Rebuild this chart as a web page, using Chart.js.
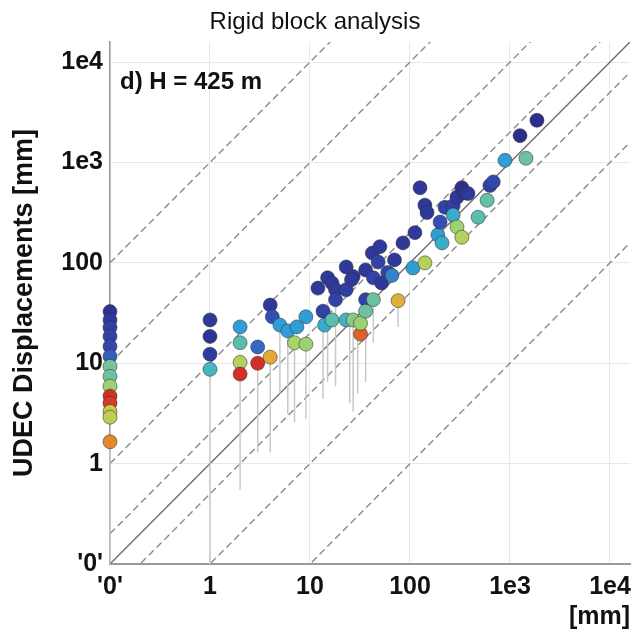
<!DOCTYPE html>
<html>
<head>
<meta charset="utf-8">
<script src="https://cdn.jsdelivr.net/npm/chart.js@4.4.1/dist/chart.umd.min.js"></script>
<style>
  html, body { margin: 0; padding: 0; background: #fff; }
</style>
</head>
<body>
<canvas id="chart" width="641" height="643"></canvas>
<script>
// '0' on both log axes sits at 0.1
const zeroValue = 0.1;
const axisMax = 15849; // 10^4.2
const tickValues = [0.1, 1, 10, 100, 1000, 10000];
const tickLabels = ["'0'", '1', '10', '100', '1e3', '1e4'];

const chartTitle = 'Rigid block analysis';
const panelLabel = 'd) H = 425 m';
const yTitle = 'UDEC Displacements [mm]';
const xTitle = '[mm]';

// rigid block displacement (x), UDEC displacement (y), colour value 0 (blue) .. 1 (red)
const rigidBlock = [
  0.1, 0.1, 0.1, 0.1, 0.1, 0.1, 0.1, 0.1, 0.1, 0.1, 0.1, 0.1, 0.1, 0.1,
  1, 1, 1, 1,
  2, 2, 2, 2,
  3, 3, 4, 4, 4.2,
  5, 6, 7, 7.4, 9.1, 9.1,
  12, 13.5, 14, 15, 16.6, 18, 18, 16.6,
  23, 23, 23, 27, 27, 32, 32, 36, 36, 36, 43, 43, 52, 76, 107, 141,
  26, 42, 48, 50, 70, 85, 112, 60, 66,
  126, 141, 148, 190, 209, 200, 224, 270, 270, 295, 330, 295, 330, 350, 380,
  480, 590, 630, 680, 891, 1445, 1260, 1860
];
const udec = [
  32.7, 27, 22.7, 18.5, 14.7, 11.7, 9.3, 7.4, 5.9, 4.7, 4.0, 3.3, 2.9, 1.65,
  27, 18.5, 12.3, 8.7,
  23, 16, 10.2, 7.8,
  14.5, 10, 11.5, 38, 29,
  24, 21, 16, 23, 29, 15.5,
  56, 33, 24, 71, 63, 54, 43, 27,
  91, 54, 27, 73, 27, 19.5, 25, 85, 43, 33, 43, 71, 63, 42, 89, 100,
  68, 125, 102, 145, 107, 158, 200, 80, 75,
  560, 375, 317, 190, 158, 255, 357, 370, 300, 228, 180, 450, 560, 500, 490,
  285, 420, 590, 640, 1050, 1100, 1850, 2630
];
const colourValue = [
  0.02, 0.05, 0.08, 0.1, 0.12, 0.18, 0.52, 0.5, 0.6, 0.98, 0.95, 0.72, 0.68, 0.85,
  0.05, 0.03, 0.06, 0.4,
  0.3, 0.45, 0.65, 0.98,
  0.2, 0.98, 0.8, 0.05, 0.15,
  0.3, 0.3, 0.62, 0.3, 0.3, 0.6,
  0.05, 0.1, 0.35, 0.05, 0.05, 0.05, 0.1, 0.45,
  0.05, 0.08, 0.38, 0.05, 0.55, 0.9, 0.6, 0.05, 0.1, 0.5, 0.5, 0.1, 0.05, 0.78, 0.3, 0.65,
  0.05, 0.05, 0.1, 0.05, 0.05, 0.05, 0.05, 0.1, 0.25,
  0.05, 0.05, 0.05, 0.3, 0.35, 0.15, 0.1, 0.08, 0.35, 0.6, 0.65, 0.05, 0.02, 0.03, 0.05,
  0.45, 0.48, 0.1, 0.12, 0.3, 0.5, 0.0, 0.0
];

// grey vertical stems under some points
const stemX = [0.1, 1, 2, 3, 4, 5, 6, 7, 9.1, 13.5, 15, 18, 25, 27, 30, 36, 43, 76];
const stemTop = [1.65, 8.7, 7.8, 10, 11.5, 24, 21, 16, 15.5, 24, 40, 43, 27, 27, 20, 33, 43, 42];
const stemBottom = [0.1, 0.1, 0.55, 1.3, 1.3, 5, 3.1, 2.6, 2.8, 4.4, 6.5, 5.9, 4, 3.3, 5, 6.5, 16, 23];

// reference lines y = k * x
const ratioLines = [1000, 100, 10, 2, 1, 0.5, 0.1, 0.01];

// jet-like colour map
const stops = [
  [0.0, [44, 46, 140]],
  [0.15, [52, 78, 184]],
  [0.3, [48, 158, 214]],
  [0.4, [70, 184, 192]],
  [0.5, [108, 194, 160]],
  [0.62, [168, 212, 104]],
  [0.72, [208, 200, 72]],
  [0.82, [232, 160, 48]],
  [0.95, [216, 58, 40]],
  [1.0, [210, 40, 36]]
];
function colourOf(c) {
  for (let i = 1; i < stops.length; i++) {
    if (c <= stops[i][0]) {
      const a = stops[i - 1], b = stops[i];
      const t = (c - a[0]) / (b[0] - a[0]);
      const rgb = a[1].map((v, k) => Math.round(v + (b[1][k] - v) * t));
      return 'rgb(' + rgb.join(',') + ')';
    }
  }
  return 'rgb(210,40,36)';
}

const points = rigidBlock.map((x, i) => ({ x: x, y: udec[i] }));

const stemSets = stemX.map((x, i) => ({
  type: 'scatter',
  data: [{ x: x, y: stemTop[i] }, { x: x, y: stemBottom[i] }],
  showLine: true,
  borderColor: '#c8c8c8',
  borderWidth: 1.5,
  pointRadius: 0,
  clip: false
}));

const lineSets = ratioLines.map(k => ({
  type: 'scatter',
  data: [{ x: zeroValue, y: k * zeroValue }, { x: axisMax, y: k * axisMax }],
  showLine: true,
  borderColor: k === 1 ? '#6e6e6e' : '#8a8a8a',
  borderWidth: 1.4,
  borderDash: k === 1 ? [] : [7, 4],
  pointRadius: 0,
  clip: 0
}));

const panelLabelPlugin = {
  id: 'panelLabel',
  afterDraw(chart) {
    const ctx = chart.ctx;
    ctx.save();
    ctx.font = 'bold 24px "Liberation Sans", Arial, sans-serif';
    ctx.fillStyle = '#111';
    ctx.textBaseline = 'middle';
    ctx.textAlign = 'left';
    ctx.fillText(panelLabel, 120, 82);
    ctx.restore();
  }
};

const tickFont = { family: '"Liberation Sans", Arial, sans-serif', size: 25, weight: 'bold' };

new Chart(document.getElementById('chart'), {
  type: 'scatter',
  data: {
    datasets: [{
      data: points,
      backgroundColor: ctx => colourOf(colourValue[ctx.dataIndex]),
      borderColor: 'rgba(50,50,50,0.55)',
      borderWidth: 1,
      pointRadius: 7,
      clip: false
    }].concat(stemSets, lineSets)
  },
  options: {
    responsive: false,
    devicePixelRatio: 1,
    animation: false,
    layout: { padding: { right: 11 } },
    plugins: {
      legend: { display: false },
      tooltip: { enabled: false },
      title: {
        display: true,
        text: chartTitle,
        color: '#111',
        font: { family: '"Liberation Sans", Arial, sans-serif', size: 24, weight: 'normal' },
        padding: { top: 8, bottom: 5.2 }
      }
    },
    scales: {
      x: {
        type: 'logarithmic',
        min: zeroValue,
        max: axisMax,
        afterBuildTicks: s => { s.ticks = tickValues.map(v => ({ value: v })); },
        afterFit: s => { s.height = 79; },
        ticks: {
          callback: (v, i) => tickLabels[i],
          font: tickFont,
          color: '#111',
          maxRotation: 0,
          autoSkip: false,
          padding: 8
        },
        grid: { color: '#e8e8e8', drawTicks: false },
        border: { color: '#9a9a9a', width: 2 },
        title: {
          display: true,
          text: xTitle,
          align: 'end',
          color: '#111',
          font: tickFont,
          padding: { top: 0, bottom: 11 }
        }
      },
      y: {
        type: 'logarithmic',
        min: zeroValue,
        max: axisMax,
        afterBuildTicks: s => { s.ticks = tickValues.map(v => ({ value: v })); },
        afterFit: s => { s.width = 110; },
        ticks: {
          callback: (v, i) => tickLabels[i],
          font: tickFont,
          color: '#111',
          autoSkip: false,
          padding: 7
        },
        grid: { color: '#e8e8e8', drawTicks: false },
        border: { color: '#9a9a9a', width: 1.5 },
        title: {
          display: true,
          text: yTitle,
          color: '#111',
          font: { family: '"Liberation Sans", Arial, sans-serif', size: 27, weight: 'bold' },
          padding: { top: 8, bottom: 0 }
        }
      }
    }
  },
  plugins: [panelLabelPlugin]
});
</script>
</body>
</html>
